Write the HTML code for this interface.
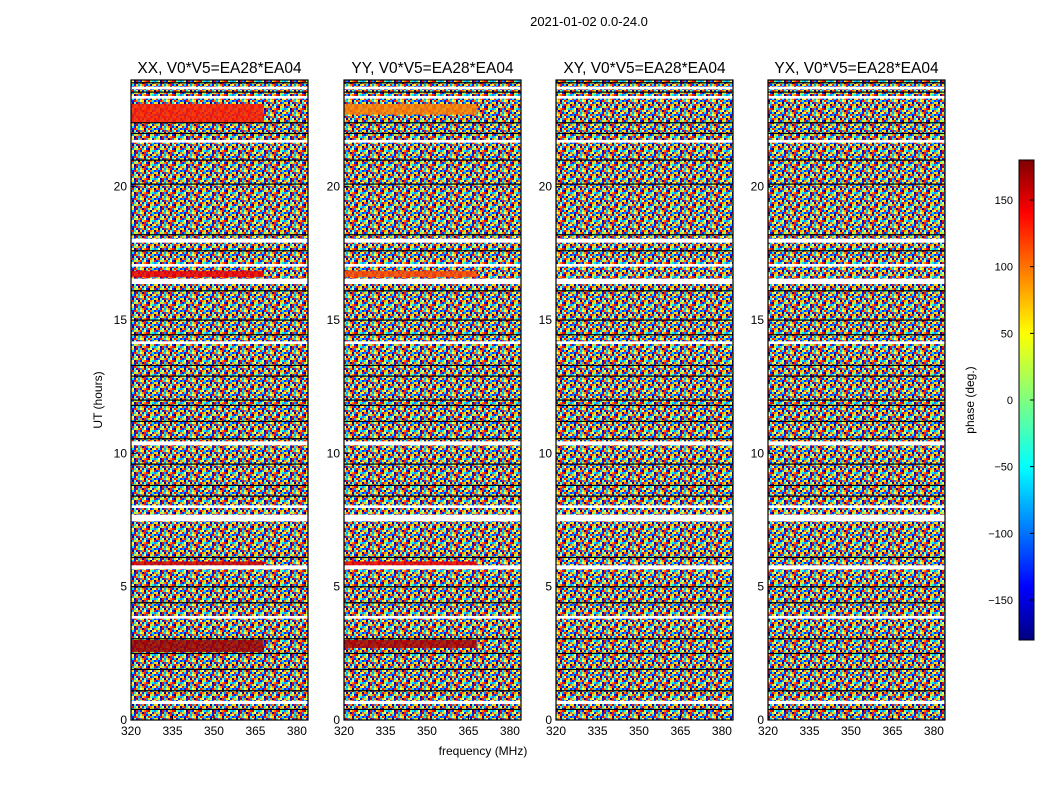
<!DOCTYPE html>
<html><head><meta charset="utf-8"><style>
body{margin:0;background:#fff;width:1050px;height:800px;overflow:hidden;font-family:"Liberation Sans",sans-serif}
svg text{font-family:"Liberation Sans",sans-serif}
</style></head><body>
<svg id="c" width="1050" height="800">
<defs>
<pattern id="noise" width="26" height="14" patternUnits="userSpaceOnUse"><g id="tile"></g></pattern>
<linearGradient id="jet" x1="0" y1="1" x2="0" y2="0">
<stop offset="0" stop-color="#00007f"/><stop offset="0.11" stop-color="#0000ff"/><stop offset="0.36" stop-color="#00ffff"/><stop offset="0.5" stop-color="#7fff7f"/><stop offset="0.64" stop-color="#ffff00"/><stop offset="0.89" stop-color="#ff0000"/><stop offset="1" stop-color="#7f0000"/>
</linearGradient>
</defs>
</svg>
<script>
const panelTitles=["XX, V0*V5=EA28*EA04","YY, V0*V5=EA28*EA04","XY, V0*V5=EA28*EA04","YX, V0*V5=EA28*EA04"];
const yTicks=[0,5,10,15,20];
const xTicks=[320,335,350,365,380];
const cbTicks=[-150,-100,-50,0,50,100,150];
const gapStart=[23.75,23.4,21.75,18.05,17.1,16.55,14.2,10.45,8.05,7.7,5.8,3.9,0.72];
const gapEnd=[23.65,23.3,21.65,17.9,17.0,16.35,14.1,10.3,7.95,7.45,5.65,3.8,0.6];
const blackLines=[23.9,23.55,22.4,22.0,21.0,20.1,18.2,17.6,16.1,15.0,14.45,13.3,12.9,12.0,11.8,11.2,10.55,9.6,8.8,8.4,6.1,5.0,4.4,3.05,2.5,1.9,1.1,0.4];
const bandPanel=[0,0,0,1,1,1,0,1];
const bandStart=[16.85,3.0,23.1,16.85,3.0,23.1,5.95,5.95];
const bandEnd=[16.6,2.55,22.4,16.6,2.7,22.7,5.8,5.8];
const bandPhase=[140,170,125,110,165,90,150,140];
const panelX=[131,344,556,768];
const PW=177,PT=80,PB=720,F0=320,F1=384;
const svg=document.getElementById('c');
const NS='http://www.w3.org/2000/svg';
function mk(t,a,p){const e=document.createElementNS(NS,t);for(const k in a)e.setAttribute(k,a[k]);(p||svg).appendChild(e);return e;}
// texture tile (styling only)
const pal={a:'#ff1000',b:'#ffe000',c:'#00e8ff',d:'#0020ff',e:'#ff8000',f:'#80ff80',g:'#0000a0',h:'#1090ff',i:'#c00000',j:'#ffff60'};
const tileRows=["acdbhfeadcgbj","hdaecjbgfaecd","bgfdaheicjdhb","eacjgbdfhaebg","dhbfeacjdgbfa","cjgahdbeaifch","fbdicegahbjde"];
const tile=document.getElementById('tile');
tileRows.forEach((r,y)=>{for(let x=0;x<r.length;x++)mk('rect',{x:x*2,y:y*2,width:2,height:2,fill:pal[r[x]]},tile);});
function yS(t){return PB-(t/24)*(PB-PT);}
function jet(v){const x=(v+180)/360;const r=Math.max(0,Math.min(1,1.5-Math.abs(4*x-3)));const g=Math.max(0,Math.min(1,1.5-Math.abs(4*x-2)));const b=Math.max(0,Math.min(1,1.5-Math.abs(4*x-1)));return `rgb(${r*255|0},${g*255|0},${b*255|0})`;}
const sup=mk('text',{x:589,y:26,'text-anchor':'middle','font-size':13});sup.textContent='2021-01-02 0.0-24.0';

panelX.forEach((px,i)=>{
  const xS=f=>px+(f-F0)/(F1-F0)*PW;
  const g=mk('g',{});
  
  
  mk('rect',{x:px,y:PT,width:PW,height:PB-PT,fill:'url(#noise)'},g);
  bandStart.forEach((s,j)=>{if(bandPanel[j]!==i)return;
    const r=mk('rect',{x:px,y:yS(s),width:PW*0.75,height:yS(bandEnd[j])-yS(s),fill:jet(bandPhase[j]),opacity:0.85},g);
    });
  gapStart.forEach((s,j)=>{const r=mk('rect',{x:px,y:yS(s),width:PW,height:yS(gapEnd[j])-yS(s),fill:'#fff'},g);
    });
  blackLines.forEach(t=>{const l=mk('rect',{x:px,y:yS(t)-0.5,width:PW,height:1.2,fill:'#000'},g);
    });
  mk('rect',{x:px,y:PT,width:PW,height:PB-PT,fill:'none',stroke:'#000','stroke-width':1.2},g);
  const tt=mk('text',{x:px+PW/2,y:73,'text-anchor':'middle','font-size':15.5},g);tt.textContent=panelTitles[i];
  
  yTicks.forEach(t=>{const y=yS(t);mk('line',{x1:px,x2:px+5,y1:y,y2:y,stroke:'#000'},g);
    const l=mk('text',{x:px-4,y:y+4,'text-anchor':'end','font-size':12},g);l.textContent=t;
    });
  xTicks.forEach(f=>{const x=xS(f);mk('line',{x1:x,x2:x,y1:PB,y2:PB-5,stroke:'#000'},g);
    const l=mk('text',{x:x,y:PB+15,'text-anchor':'middle','font-size':12},g);l.textContent=f;
    });
});
const yl=mk('text',{x:102,y:400,'text-anchor':'middle','font-size':12,transform:'rotate(-90 102 400)'});yl.textContent='UT (hours)';

const xl=mk('text',{x:483,y:755,'text-anchor':'middle','font-size':12});xl.textContent='frequency (MHz)';

const CX=1019,CW=15,CT=160,CB=640;
const cb=mk('rect',{x:CX,y:CT,width:CW,height:CB-CT,fill:'url(#jet)',stroke:'#000'});

const cy=v=>CB-(v+180)/360*(CB-CT);
cbTicks.forEach(v=>{const y=cy(v);mk('line',{x1:CX+CW-4,x2:CX+CW,y1:y,y2:y,stroke:'#000'});
  const l=mk('text',{x:1013,y:y+4,'text-anchor':'end','font-size':11});l.textContent=v<0?'\u2212'+(-v):v;
  });
const cl=mk('text',{x:974,y:400,'text-anchor':'middle','font-size':12,transform:'rotate(-90 974 400)'});cl.textContent='phase (deg.)';

</script>
</body></html>
